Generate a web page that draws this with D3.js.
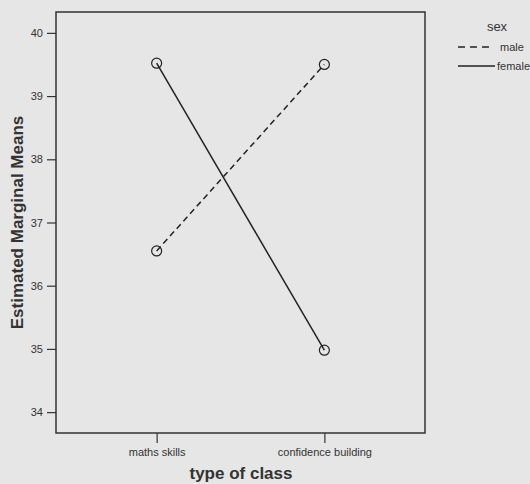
<!DOCTYPE html>
<html>
<head>
<meta charset="utf-8">
<script src="https://cdn.jsdelivr.net/npm/d3@7"></script>
<style>
  body { margin: 0; background: #e6e6e6; }
  text { font-family: "Liberation Sans", Arial, sans-serif; fill: #333; }
</style>
</head>
<body>
<div id="chart"></div>
<script>
// data
const classes = ["maths skills", "confidence building"];
const maleMeans = [36.55, 39.5];
const femaleMeans = [39.52, 34.98];
const yTicks = [34, 35, 36, 37, 38, 39, 40];
const seriesNames = ["male", "female"];

const width = 530;
const height = 484;
const box = { left: 56, top: 12, right: 425, bottom: 433 };

const svg = d3
  .select("#chart")
  .append("svg")
  .attr("width", width)
  .attr("height", height);

svg.append("rect").attr("width", width).attr("height", height).attr("fill", "#e6e6e6");

// scales
const x = d3.scalePoint().domain(classes).range([box.left, box.right]).padding(0.6);
const y = d3.scaleLinear().domain([33.67, 40.33]).range([box.bottom, box.top]);

// frame
svg
  .append("rect")
  .attr("x", box.left)
  .attr("y", box.top)
  .attr("width", box.right - box.left)
  .attr("height", box.bottom - box.top)
  .attr("fill", "none")
  .attr("stroke", "#333")
  .attr("stroke-width", 1.5);

// y axis
const yAxis = svg
  .append("g")
  .attr("transform", `translate(${box.left},0)`)
  .call(d3.axisLeft(y).tickValues(yTicks).tickFormat(d3.format("d")).tickSize(9).tickPadding(4));
yAxis.select(".domain").remove();
yAxis.selectAll("line").attr("stroke", "#333").attr("stroke-width", 1.2);
yAxis.selectAll("text").style("font-size", "11px").attr("fill", "#333");

// x axis
const xAxis = svg
  .append("g")
  .attr("transform", `translate(0,${box.bottom})`)
  .call(d3.axisBottom(x).tickSize(10).tickPadding(5));
xAxis.select(".domain").remove();
xAxis.selectAll("line").attr("stroke", "#333").attr("stroke-width", 1.2);
xAxis.selectAll("text").style("font-size", "11px").attr("fill", "#333");

// axis titles
svg
  .append("text")
  .attr("x", 241)
  .attr("y", 479)
  .attr("text-anchor", "middle")
  .style("font-size", "17px")
  .style("font-weight", "bold")
  .text("type of class");

svg
  .append("text")
  .attr("transform", `translate(23,${(box.top + box.bottom) / 2}) rotate(-90)`)
  .attr("text-anchor", "middle")
  .style("font-size", "17px")
  .style("font-weight", "bold")
  .text("Estimated Marginal Means");

// lines
const series = [
  { name: seriesNames[0], values: maleMeans, dash: "6,4" },
  { name: seriesNames[1], values: femaleMeans, dash: null }
];

const line = d3
  .line()
  .x((d, i) => x(classes[i]))
  .y((d) => y(d));

series.forEach((s) => {
  svg
    .append("path")
    .datum(s.values)
    .attr("fill", "none")
    .attr("stroke", "#222")
    .attr("stroke-width", 1.5)
    .attr("stroke-dasharray", s.dash)
    .attr("d", line);

  svg
    .selectAll(null)
    .data(s.values)
    .join("circle")
    .attr("cx", (d, i) => x(classes[i]))
    .attr("cy", (d) => y(d))
    .attr("r", 5)
    .attr("fill", "none")
    .attr("stroke", "#222")
    .attr("stroke-width", 1.2);
});

// legend
svg
  .append("text")
  .attr("x", 497)
  .attr("y", 31)
  .attr("text-anchor", "middle")
  .style("font-size", "13px")
  .text("sex");

series.forEach((s, i) => {
  const ly = 47 + i * 19;
  svg
    .append("line")
    .attr("x1", 458)
    .attr("x2", i === 0 ? 492 : 495)
    .attr("y1", ly)
    .attr("y2", ly)
    .attr("stroke", "#222")
    .attr("stroke-width", 1.5)
    .attr("stroke-dasharray", i === 0 ? "7,5" : null);
  svg
    .append("text")
    .attr("x", i === 0 ? 500 : 497)
    .attr("y", ly + 4)
    .style("font-size", "11px")
    .text(s.name);
});
</script>
</body>
</html>
